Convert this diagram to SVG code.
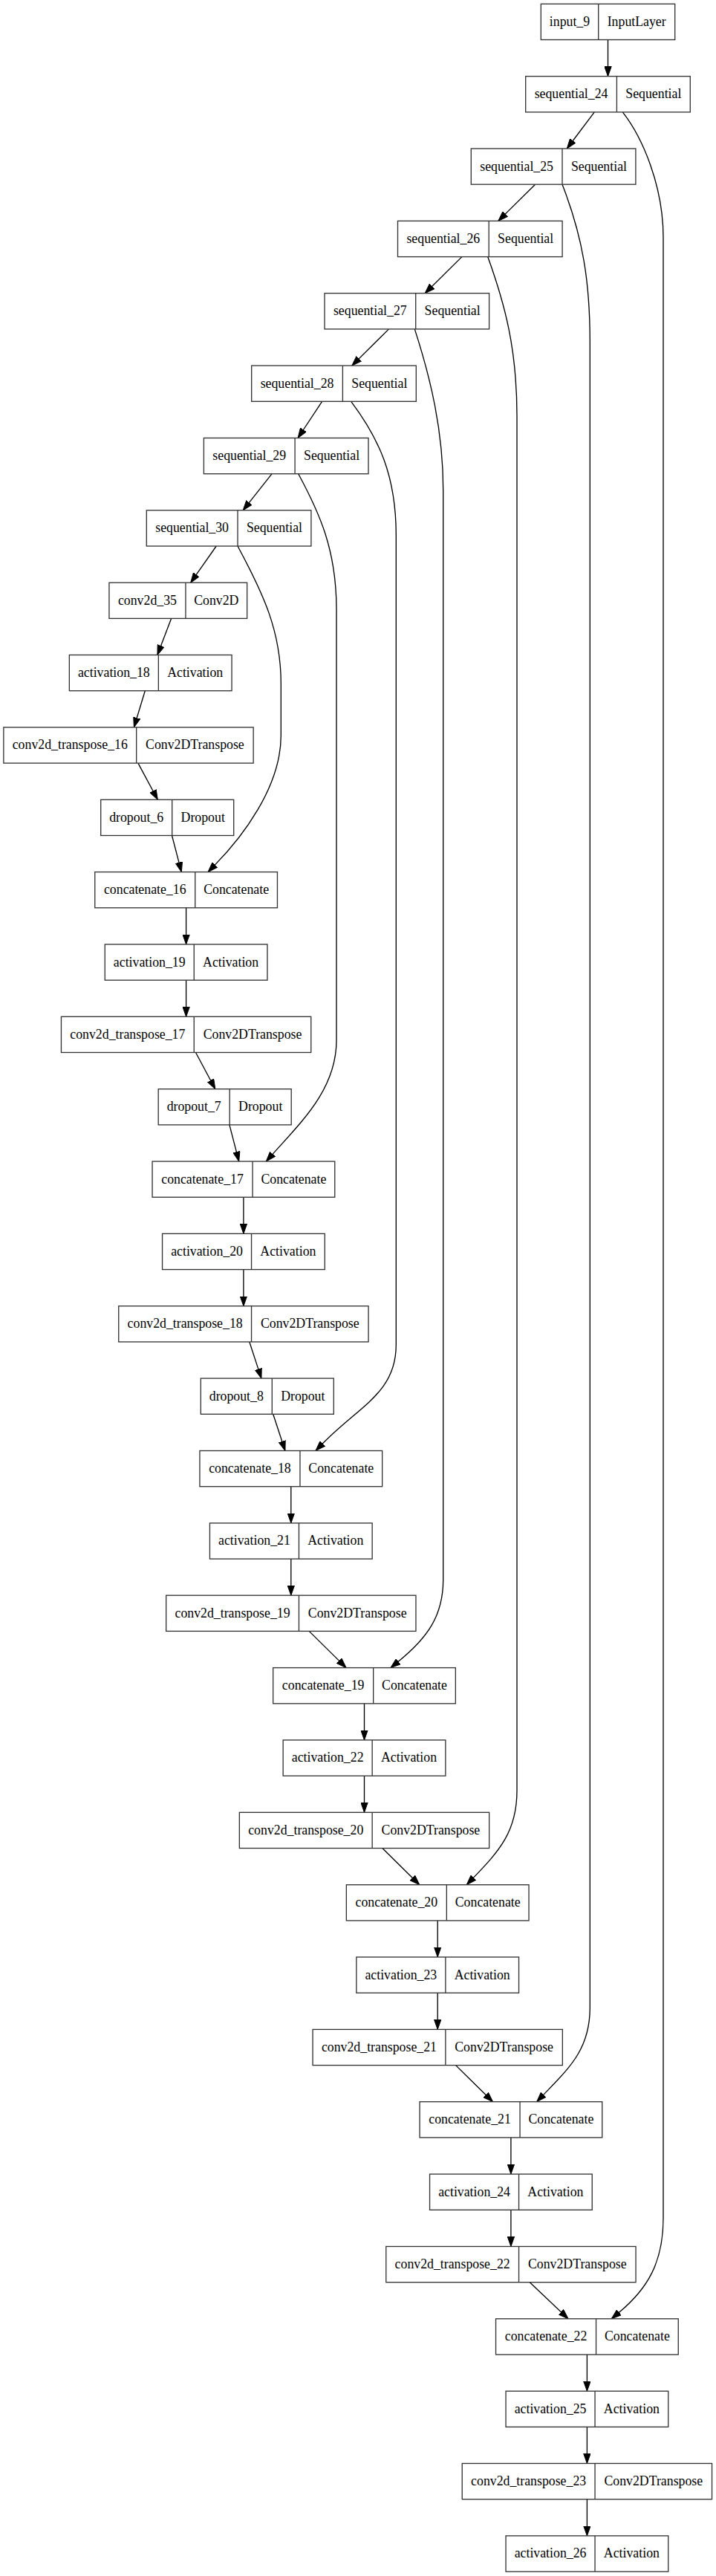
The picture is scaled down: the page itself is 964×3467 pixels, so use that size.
<svg xmlns="http://www.w3.org/2000/svg" width="964" height="3467" viewBox="0 0 964 3467">
<style>
.box{fill:#fff;stroke:#333;stroke-width:1.33}
.div{stroke:#333;stroke-width:1.33}
.t{font-family:"Liberation Serif","Times New Roman",serif;font-size:17.8px;text-anchor:middle;fill:#000}
.e{fill:none;stroke:#000;stroke-width:1.33;marker-end:url(#ah)}
</style>
<defs>
<marker id="ah" viewBox="0 -5 14 10" refX="13.3" refY="0" markerWidth="14" markerHeight="10" markerUnits="userSpaceOnUse" orient="auto">
<path d="M0,-4.7 L13.3,0 L0,4.7 z" fill="#000" stroke="#000" stroke-width="1"/>
</marker>
</defs>
<rect x="0" y="0" width="964" height="3467" fill="#fff"/>
<g id="connectors">
<path class="e" d="M818.5,53.5 L818.5,102.7"/>
<path class="e" d="M800.3,150.9 L763.3,200"/>
<path class="e" d="M720.6,248.2 L670.8,297.4"/>
<path class="e" d="M621.9,345.6 L572.2,394.7"/>
<path class="e" d="M523.5,442.9 L473.8,492.1"/>
<path class="e" d="M433.6,540.3 L401.1,589.5"/>
<path class="e" d="M366.1,637.7 L327.2,686.8"/>
<path class="e" d="M291.2,735 L256.7,784.2"/>
<path class="e" d="M230.6,832.4 L211.9,881.5"/>
<path class="e" d="M195.3,929.7 L180.4,978.9"/>
<path class="e" d="M185.9,1027.1 L212.3,1076.3"/>
<path class="e" d="M231.5,1124.5 L244.3,1173.6"/>
<path class="e" d="M250.6,1221.8 L250.6,1271"/>
<path class="e" d="M250.6,1319.2 L250.6,1368.3"/>
<path class="e" d="M263.5,1416.5 L289.8,1465.7"/>
<path class="e" d="M308.9,1513.9 L321.7,1563.1"/>
<path class="e" d="M327.9,1611.3 L327.9,1660.4"/>
<path class="e" d="M327.9,1708.6 L327.9,1757.8"/>
<path class="e" d="M335.8,1806 L351.9,1855.1"/>
<path class="e" d="M367.7,1903.3 L383.9,1952.5"/>
<path class="e" d="M391.8,2000.7 L391.8,2049.9"/>
<path class="e" d="M391.8,2098.1 L391.8,2147.2"/>
<path class="e" d="M416.2,2195.4 L466.1,2244.6"/>
<path class="e" d="M490.5,2292.8 L490.5,2341.9"/>
<path class="e" d="M490.5,2390.1 L490.5,2439.3"/>
<path class="e" d="M514.9,2487.5 L564.8,2536.7"/>
<path class="e" d="M589.2,2584.9 L589.2,2634"/>
<path class="e" d="M589.2,2682.2 L589.2,2731.4"/>
<path class="e" d="M613.6,2779.6 L663.5,2828.7"/>
<path class="e" d="M687.9,2876.9 L687.9,2926.1"/>
<path class="e" d="M687.9,2974.3 L687.9,3023.5"/>
<path class="e" d="M713.3,3071.7 L765,3120.8"/>
<path class="e" d="M790.4,3169 L790.4,3218.2"/>
<path class="e" d="M790.4,3266.4 L790.4,3315.5"/>
<path class="e" d="M790.4,3363.7 L790.4,3412.9"/>
<path class="e" d="M838.3,150.9 C865,185 893,250 893,320 L893,2985 C893,3045 871.9,3080.3 833.5,3112.3 L823.3,3120.8"/>
<path class="e" d="M757,248.2 C785,320 794.3,380 794.3,460 L794.3,2702 C794.3,2758 766.6,2783 731.9,2819.1 L722.7,2828.7"/>
<path class="e" d="M656.7,345.6 C680,410 696,470 696,560 L696,2410 C696,2465 672.2,2491 637.5,2527.1 L628.3,2536.7"/>
<path class="e" d="M558.3,442.9 C580,510 596.7,580 596.7,660 L596.7,2126 C596.7,2175 575.1,2204.7 536.3,2236.2 L526,2244.6"/>
<path class="e" d="M472.7,540.3 C510,590 533.3,640 533.3,720 L533.3,1810 C533.3,1875 483,1892.7 434.3,1943 L425,1952.5"/>
<path class="e" d="M401.7,637.7 C430,690 453,740 453,820 L453,1400 C453,1465 407.3,1508.5 367.2,1553.1 L358.3,1563.1"/>
<path class="e" d="M320,735 C355,800 378.3,850 378.3,920 L378.3,990 C378.3,1060 324.4,1128.5 289.3,1164.1 L280,1173.6"/>
</g>
<g id="input_9" transform="translate(728.3,5.3)"><rect class="box" width="180.4" height="48.2"/><line class="div" x1="77.4" y1="0" x2="77.4" y2="48.2"/><text class="t" x="38.7" y="29.6">input_9</text><text class="t" x="128.9" y="29.6">InputLayer</text></g>
<g id="sequential_24" transform="translate(707.7,102.7)"><rect class="box" width="221.6" height="48.2"/><line class="div" x1="122.7" y1="0" x2="122.7" y2="48.2"/><text class="t" x="61.35" y="29.6">sequential_24</text><text class="t" x="172.15" y="29.6">Sequential</text></g>
<g id="sequential_25" transform="translate(634.3,200)"><rect class="box" width="221.6" height="48.2"/><line class="div" x1="122.7" y1="0" x2="122.7" y2="48.2"/><text class="t" x="61.35" y="29.6">sequential_25</text><text class="t" x="172.15" y="29.6">Sequential</text></g>
<g id="sequential_26" transform="translate(535.5,297.4)"><rect class="box" width="221.6" height="48.2"/><line class="div" x1="122.7" y1="0" x2="122.7" y2="48.2"/><text class="t" x="61.35" y="29.6">sequential_26</text><text class="t" x="172.15" y="29.6">Sequential</text></g>
<g id="sequential_27" transform="translate(437,394.7)"><rect class="box" width="221.6" height="48.2"/><line class="div" x1="122.7" y1="0" x2="122.7" y2="48.2"/><text class="t" x="61.35" y="29.6">sequential_27</text><text class="t" x="172.15" y="29.6">Sequential</text></g>
<g id="sequential_28" transform="translate(338.7,492.1)"><rect class="box" width="221.6" height="48.2"/><line class="div" x1="122.7" y1="0" x2="122.7" y2="48.2"/><text class="t" x="61.35" y="29.6">sequential_28</text><text class="t" x="172.15" y="29.6">Sequential</text></g>
<g id="sequential_29" transform="translate(274.4,589.5)"><rect class="box" width="221.6" height="48.2"/><line class="div" x1="122.7" y1="0" x2="122.7" y2="48.2"/><text class="t" x="61.35" y="29.6">sequential_29</text><text class="t" x="172.15" y="29.6">Sequential</text></g>
<g id="sequential_30" transform="translate(197.3,686.8)"><rect class="box" width="221.6" height="48.2"/><line class="div" x1="122.7" y1="0" x2="122.7" y2="48.2"/><text class="t" x="61.35" y="29.6">sequential_30</text><text class="t" x="172.15" y="29.6">Sequential</text></g>
<g id="conv2d_35" transform="translate(146.95,784.2)"><rect class="box" width="185.7" height="48.2"/><line class="div" x1="103" y1="0" x2="103" y2="48.2"/><text class="t" x="51.5" y="29.6">conv2d_35</text><text class="t" x="144.35" y="29.6">Conv2D</text></g>
<g id="activation_18" transform="translate(93.35,881.5)"><rect class="box" width="218.7" height="48.2"/><line class="div" x1="120" y1="0" x2="120" y2="48.2"/><text class="t" x="60" y="29.6">activation_18</text><text class="t" x="169.35" y="29.6">Activation</text></g>
<g id="conv2d_transpose_16" transform="translate(4.85,978.9)"><rect class="box" width="336.3" height="48.2"/><line class="div" x1="178.8" y1="0" x2="178.8" y2="48.2"/><text class="t" x="89.4" y="29.6">conv2d_transpose_16</text><text class="t" x="257.55" y="29.6">Conv2DTranspose</text></g>
<g id="dropout_6" transform="translate(135.7,1076.3)"><rect class="box" width="179" height="48.2"/><line class="div" x1="96" y1="0" x2="96" y2="48.2"/><text class="t" x="48" y="29.6">dropout_6</text><text class="t" x="137.5" y="29.6">Dropout</text></g>
<g id="concatenate_16" transform="translate(127.75,1173.6)"><rect class="box" width="245.7" height="48.2"/><line class="div" x1="135" y1="0" x2="135" y2="48.2"/><text class="t" x="67.5" y="29.6">concatenate_16</text><text class="t" x="190.35" y="29.6">Concatenate</text></g>
<g id="activation_19" transform="translate(141.25,1271)"><rect class="box" width="218.7" height="48.2"/><line class="div" x1="120" y1="0" x2="120" y2="48.2"/><text class="t" x="60" y="29.6">activation_19</text><text class="t" x="169.35" y="29.6">Activation</text></g>
<g id="conv2d_transpose_17" transform="translate(82.45,1368.3)"><rect class="box" width="336.3" height="48.2"/><line class="div" x1="178.8" y1="0" x2="178.8" y2="48.2"/><text class="t" x="89.4" y="29.6">conv2d_transpose_17</text><text class="t" x="257.55" y="29.6">Conv2DTranspose</text></g>
<g id="dropout_7" transform="translate(213.2,1465.7)"><rect class="box" width="179" height="48.2"/><line class="div" x1="96" y1="0" x2="96" y2="48.2"/><text class="t" x="48" y="29.6">dropout_7</text><text class="t" x="137.5" y="29.6">Dropout</text></g>
<g id="concatenate_17" transform="translate(205.05,1563.1)"><rect class="box" width="245.7" height="48.2"/><line class="div" x1="135" y1="0" x2="135" y2="48.2"/><text class="t" x="67.5" y="29.6">concatenate_17</text><text class="t" x="190.35" y="29.6">Concatenate</text></g>
<g id="activation_20" transform="translate(218.55,1660.4)"><rect class="box" width="218.7" height="48.2"/><line class="div" x1="120" y1="0" x2="120" y2="48.2"/><text class="t" x="60" y="29.6">activation_20</text><text class="t" x="169.35" y="29.6">Activation</text></g>
<g id="conv2d_transpose_18" transform="translate(159.75,1757.8)"><rect class="box" width="336.3" height="48.2"/><line class="div" x1="178.8" y1="0" x2="178.8" y2="48.2"/><text class="t" x="89.4" y="29.6">conv2d_transpose_18</text><text class="t" x="257.55" y="29.6">Conv2DTranspose</text></g>
<g id="dropout_8" transform="translate(270.3,1855.1)"><rect class="box" width="179" height="48.2"/><line class="div" x1="96" y1="0" x2="96" y2="48.2"/><text class="t" x="48" y="29.6">dropout_8</text><text class="t" x="137.5" y="29.6">Dropout</text></g>
<g id="concatenate_18" transform="translate(268.95,1952.5)"><rect class="box" width="245.7" height="48.2"/><line class="div" x1="135" y1="0" x2="135" y2="48.2"/><text class="t" x="67.5" y="29.6">concatenate_18</text><text class="t" x="190.35" y="29.6">Concatenate</text></g>
<g id="activation_21" transform="translate(282.45,2049.9)"><rect class="box" width="218.7" height="48.2"/><line class="div" x1="120" y1="0" x2="120" y2="48.2"/><text class="t" x="60" y="29.6">activation_21</text><text class="t" x="169.35" y="29.6">Activation</text></g>
<g id="conv2d_transpose_19" transform="translate(223.65,2147.2)"><rect class="box" width="336.3" height="48.2"/><line class="div" x1="178.8" y1="0" x2="178.8" y2="48.2"/><text class="t" x="89.4" y="29.6">conv2d_transpose_19</text><text class="t" x="257.55" y="29.6">Conv2DTranspose</text></g>
<g id="concatenate_19" transform="translate(367.65,2244.6)"><rect class="box" width="245.7" height="48.2"/><line class="div" x1="135" y1="0" x2="135" y2="48.2"/><text class="t" x="67.5" y="29.6">concatenate_19</text><text class="t" x="190.35" y="29.6">Concatenate</text></g>
<g id="activation_22" transform="translate(381.15,2341.9)"><rect class="box" width="218.7" height="48.2"/><line class="div" x1="120" y1="0" x2="120" y2="48.2"/><text class="t" x="60" y="29.6">activation_22</text><text class="t" x="169.35" y="29.6">Activation</text></g>
<g id="conv2d_transpose_20" transform="translate(322.35,2439.3)"><rect class="box" width="336.3" height="48.2"/><line class="div" x1="178.8" y1="0" x2="178.8" y2="48.2"/><text class="t" x="89.4" y="29.6">conv2d_transpose_20</text><text class="t" x="257.55" y="29.6">Conv2DTranspose</text></g>
<g id="concatenate_20" transform="translate(466.35,2536.7)"><rect class="box" width="245.7" height="48.2"/><line class="div" x1="135" y1="0" x2="135" y2="48.2"/><text class="t" x="67.5" y="29.6">concatenate_20</text><text class="t" x="190.35" y="29.6">Concatenate</text></g>
<g id="activation_23" transform="translate(479.85,2634)"><rect class="box" width="218.7" height="48.2"/><line class="div" x1="120" y1="0" x2="120" y2="48.2"/><text class="t" x="60" y="29.6">activation_23</text><text class="t" x="169.35" y="29.6">Activation</text></g>
<g id="conv2d_transpose_21" transform="translate(421.05,2731.4)"><rect class="box" width="336.3" height="48.2"/><line class="div" x1="178.8" y1="0" x2="178.8" y2="48.2"/><text class="t" x="89.4" y="29.6">conv2d_transpose_21</text><text class="t" x="257.55" y="29.6">Conv2DTranspose</text></g>
<g id="concatenate_21" transform="translate(565.05,2828.7)"><rect class="box" width="245.7" height="48.2"/><line class="div" x1="135" y1="0" x2="135" y2="48.2"/><text class="t" x="67.5" y="29.6">concatenate_21</text><text class="t" x="190.35" y="29.6">Concatenate</text></g>
<g id="activation_24" transform="translate(578.55,2926.1)"><rect class="box" width="218.7" height="48.2"/><line class="div" x1="120" y1="0" x2="120" y2="48.2"/><text class="t" x="60" y="29.6">activation_24</text><text class="t" x="169.35" y="29.6">Activation</text></g>
<g id="conv2d_transpose_22" transform="translate(519.75,3023.5)"><rect class="box" width="336.3" height="48.2"/><line class="div" x1="178.8" y1="0" x2="178.8" y2="48.2"/><text class="t" x="89.4" y="29.6">conv2d_transpose_22</text><text class="t" x="257.55" y="29.6">Conv2DTranspose</text></g>
<g id="concatenate_22" transform="translate(667.55,3120.8)"><rect class="box" width="245.7" height="48.2"/><line class="div" x1="135" y1="0" x2="135" y2="48.2"/><text class="t" x="67.5" y="29.6">concatenate_22</text><text class="t" x="190.35" y="29.6">Concatenate</text></g>
<g id="activation_25" transform="translate(681.05,3218.2)"><rect class="box" width="218.7" height="48.2"/><line class="div" x1="120" y1="0" x2="120" y2="48.2"/><text class="t" x="60" y="29.6">activation_25</text><text class="t" x="169.35" y="29.6">Activation</text></g>
<g id="conv2d_transpose_23" transform="translate(622.25,3315.5)"><rect class="box" width="336.3" height="48.2"/><line class="div" x1="178.8" y1="0" x2="178.8" y2="48.2"/><text class="t" x="89.4" y="29.6">conv2d_transpose_23</text><text class="t" x="257.55" y="29.6">Conv2DTranspose</text></g>
<g id="activation_26" transform="translate(681.05,3412.9)"><rect class="box" width="218.7" height="48.2"/><line class="div" x1="120" y1="0" x2="120" y2="48.2"/><text class="t" x="60" y="29.6">activation_26</text><text class="t" x="169.35" y="29.6">Activation</text></g>
</svg>
